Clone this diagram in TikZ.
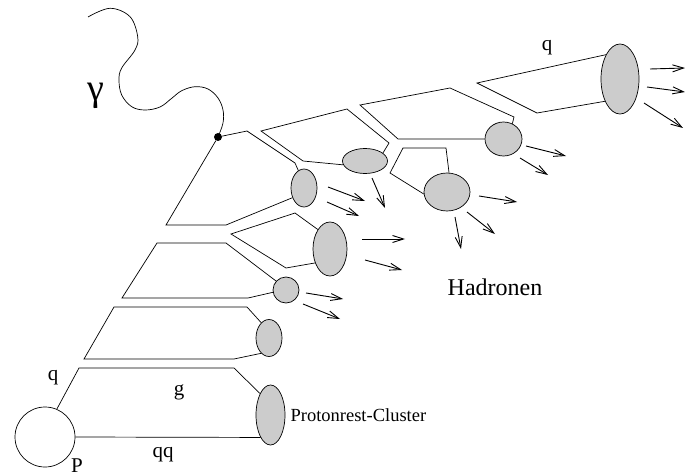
\documentclass[tikz,border=0pt]{standalone}
\usepackage{fontspec}
\setmainfont{Liberation Serif}
\usepackage{tikz}
\usetikzlibrary{shapes.geometric, arrows.meta, positioning}
\tikzstyle{cluster} = [ellipse, draw=black, fill=black!20, inner sep=0pt, line width=0.7pt]
\tikzstyle{proton} = [circle, draw=black, minimum size=60pt, inner sep=0pt, line width=0.7pt]
\tikzstyle{string} = [line width=0.7pt, line join=miter]
\tikzstyle{photon} = [line width=0.7pt]
\tikzstyle{arrow} = [line width=0.9pt, -{Straight Barb[length=11pt, width=7pt]}]
\tikzstyle{lab} = [inner sep=0pt, font=\fontsize{21}{24}\selectfont]

\begin{document}
\begin{tikzpicture}[x=1pt, y=-1pt]
\useasboundingbox (0,0) rectangle (685,476);
\node (prot) [proton] at (45,437) {};
\node (clus1) [cluster, minimum width=29pt, minimum height=60pt] at (270.5,415) {};
\node (clus2) [cluster, minimum width=26pt, minimum height=37pt] at (269,338) {};
\node (clus3) [cluster, minimum width=26pt, minimum height=26pt] at (286,290) {};
\node (clus4) [cluster, minimum width=34pt, minimum height=54pt] at (330,249) {};
\node (clus5) [cluster, minimum width=26pt, minimum height=38pt] at (304,188) {};
\node (clus6) [cluster, minimum width=45pt, minimum height=25pt] at (365,161) {};
\node (clus7) [cluster, minimum width=46pt, minimum height=38pt] at (447,192) {};
\node (clus8) [cluster, minimum width=37pt, minimum height=34pt] at (503.5,139) {};
\node (clus9) [cluster, minimum width=38pt, minimum height=70pt] at (620,79) {};

% strings between the clusters
\draw [string] (prot.67) -- (79,368) -- (234,368) -- (clus1.116);
\draw [string] (prot.east) -- (clus1.246);
\draw [string] (clus2.117) -- (247,307) -- (114,307) -- (84,359) -- (234,359) -- (clus2.243);
\draw [string] (clus3.138) -- (226,243) -- (157,243) -- (122,298) -- (248,298) -- (clus3.190);
\draw [string] (clus4.122) -- (295,213) -- (231,234) -- (286,268) -- (clus4.223);
\draw [string] (clus6.24) -- (389,143) -- (347,109) -- (261,131) -- (303,161) -- (clus6.190);
\draw [string] (clus7.84) -- (446,148) -- (403,148) -- (390,173) -- (clus7.185);
\draw [string] (clus8.60) -- (514,117) -- (450,88) -- (360,105) -- (398,139) -- (clus8.180);
\draw [string] (clus9.120) -- (477,83) -- (537,113) -- (clus9.236);

% photon coupling to the quark
\coordinate (gstart) at (88,17);
\node (vtx) [circle, fill=black, inner sep=0pt, minimum size=8pt] at (218,137) {};
\draw [photon] plot [smooth, tension=0.6] coordinates {(gstart) (110,8.3) (130,16.7) (137.7,36.7) (135,50) (121.7,68) (119,80) (121.7,95) (131.7,106.7) (145,110) (160,107) (171.7,98.3) (181.7,90.7) (195,86.7) (208,89) (218,98) (223,110) (223,123) (vtx)};
\draw [string] (clus5.108) -- (295,163) -- (247,131) -- (vtx) -- (166,225) -- (226,225) -- (clus5.220);

% outgoing hadrons
\draw [arrow] (clus3) ++(20,3) -- ++(37,6);
\draw [arrow] (clus3) ++(17,14) -- ++(37,15);
\draw [arrow] (clus4) ++(32,-10) -- ++(43,0);
\draw [arrow] (clus4) ++(35,11) -- ++(37,10);
\draw [arrow] (clus5) ++(24,-1) -- ++(37,14);
\draw [arrow] (clus5) ++(23,14) -- ++(32,14);
\draw [arrow] (clus6) ++(7,17) -- ++(13,30);
\draw [arrow] (clus7) ++(32,4) -- ++(38,6);
\draw [arrow] (clus7) ++(20,20) -- ++(28,22);
\draw [arrow] (clus7) ++(8,25) -- ++(6,32);
\draw [arrow] (clus8) ++(22.5,7) -- ++(40,10);
\draw [arrow] (clus8) ++(16.5,19) -- ++(28,17);
\draw [arrow] (clus9) ++(30,-10) -- ++(35,-1);
\draw [arrow] (clus9) ++(27,8) -- ++(38,5);
\draw [arrow] (clus9) ++(24,24) -- ++(39,25);

% labels
\node (lgamma) [inner sep=0pt, font=\fontsize{38}{42}\selectfont] at (96,96) {γ};
\node (lq) [lab] at (53,378) {q};
\node (lg) [lab] at (179,392) {g};
\node (lqq) [lab] at (163,455) {qq};
\node (lp) [lab] at (77,466) {P};
\node (lqtop) [lab] at (547,48) {q};
\node (lrest) [right=5pt of clus1, inner sep=0pt, font=\fontsize{18.5}{22}\selectfont] {Protonrest-Cluster};
\node (lhad) [inner sep=0pt, font=\fontsize{24}{28}\selectfont] at (495,287) {Hadronen};
\end{tikzpicture}
\end{document}
